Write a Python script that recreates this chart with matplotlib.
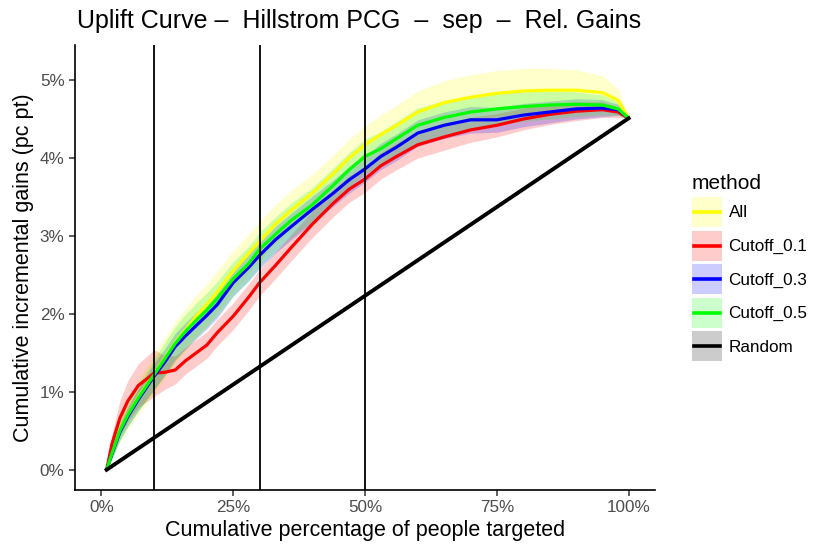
import numpy as np
import matplotlib
matplotlib.use("Agg")
import matplotlib.pyplot as plt
from matplotlib.patches import Rectangle
from matplotlib.lines import Line2D
from matplotlib.legend_handler import HandlerBase

plt.rcParams['font.family'] = ['Liberation Sans', 'DejaVu Sans']

# share of people targeted
x = [0.01, 0.02, 0.035, 0.05, 0.07, 0.10, 0.12, 0.14, 0.16, 0.18, 0.20, 0.22,
     0.25, 0.28, 0.30, 0.33, 0.36, 0.40, 0.44, 0.47, 0.50, 0.53, 0.56, 0.60,
     0.65, 0.70, 0.75, 0.80, 0.85, 0.90, 0.95, 0.98, 1.00]

# cumulative incremental gains (pc pt)
g_all = [0.0, 0.22, 0.50, 0.70, 0.93, 1.23, 1.43, 1.63, 1.80, 1.97, 2.12, 2.28,
         2.55, 2.78, 2.93, 3.15, 3.33, 3.55, 3.80, 4.00, 4.17, 4.30, 4.42, 4.59,
         4.71, 4.78, 4.83, 4.86, 4.87, 4.87, 4.84, 4.74, 4.51]
g_c01 = [0.0, 0.33, 0.66, 0.88, 1.08, 1.24, 1.25, 1.28, 1.40, 1.50, 1.60, 1.76,
         1.97, 2.22, 2.40, 2.62, 2.85, 3.15, 3.42, 3.60, 3.73, 3.90, 4.02, 4.17,
         4.27, 4.36, 4.42, 4.50, 4.56, 4.60, 4.62, 4.59, 4.51]
g_c03 = [0.0, 0.20, 0.48, 0.68, 0.90, 1.20, 1.38, 1.58, 1.72, 1.85, 1.98, 2.12,
         2.40, 2.60, 2.75, 2.95, 3.12, 3.34, 3.55, 3.72, 3.86, 4.02, 4.14, 4.32,
         4.42, 4.49, 4.49, 4.55, 4.59, 4.63, 4.64, 4.62, 4.51]
g_c05 = [0.0, 0.21, 0.50, 0.70, 0.92, 1.22, 1.42, 1.62, 1.78, 1.92, 2.05, 2.20,
         2.45, 2.65, 2.83, 3.02, 3.20, 3.40, 3.65, 3.85, 4.02, 4.12, 4.25, 4.42,
         4.52, 4.59, 4.63, 4.66, 4.68, 4.69, 4.68, 4.63, 4.51]
g_rnd = [0.0, 4.51]
x_rnd = [0.01, 1.00]

# half width of the confidence ribbons
w_all = [0.0, 0.08, 0.15, 0.18, 0.22, 0.25, 0.26, 0.27, 0.27, 0.27, 0.27, 0.27,
         0.26, 0.25, 0.25, 0.25, 0.25, 0.24, 0.24, 0.24, 0.24, 0.25, 0.26, 0.27,
         0.28, 0.29, 0.29, 0.29, 0.28, 0.26, 0.22, 0.15, 0.0]
w_c01 = [0.0, 0.12, 0.22, 0.26, 0.28, 0.30, 0.22, 0.18, 0.17, 0.17, 0.17, 0.17,
         0.17, 0.17, 0.17, 0.17, 0.17, 0.17, 0.17, 0.17, 0.17, 0.17, 0.17, 0.17,
         0.17, 0.16, 0.15, 0.14, 0.13, 0.12, 0.10, 0.07, 0.0]
w_c03 = [0.0, 0.06, 0.10, 0.12, 0.14, 0.17, 0.17, 0.17, 0.17, 0.17, 0.17, 0.17,
         0.17, 0.17, 0.17, 0.17, 0.17, 0.17, 0.17, 0.17, 0.17, 0.17, 0.17, 0.17,
         0.17, 0.17, 0.16, 0.15, 0.14, 0.13, 0.11, 0.07, 0.0]
w_c05 = [0.0, 0.07, 0.12, 0.15, 0.17, 0.20, 0.21, 0.22, 0.22, 0.22, 0.22, 0.22,
         0.22, 0.22, 0.22, 0.22, 0.22, 0.22, 0.22, 0.22, 0.22, 0.22, 0.22, 0.22,
         0.22, 0.21, 0.20, 0.19, 0.18, 0.16, 0.13, 0.09, 0.0]

cutoffs = [0.1, 0.3, 0.5]
methods = ["All", "Cutoff_0.1", "Cutoff_0.3", "Cutoff_0.5", "Random"]
colors = ["#FFFF00", "#FF0000", "#0000FF", "#00FF00", "#000000"]

fig = plt.figure(figsize=(8.3, 5.54), dpi=100)
ax = fig.add_axes([75 / 830, 64 / 554, 580 / 830, 445 / 554])

series = [(g_all, w_all), (g_c01, w_c01), (g_c03, w_c03), (g_c05, w_c05)]
xa = np.array(x)
for (g, w), c in zip(series, colors[:4]):
    g = np.array(g)
    w = np.array(w)
    ax.fill_between(xa, g - w, g + w, color=c, alpha=0.2, lw=0)
for (g, w), c in zip(series, colors[:4]):
    ax.plot(xa, g, color=c, lw=2.3, solid_capstyle="butt")
ax.plot(x_rnd, g_rnd, color="black", lw=2.8)

for c in cutoffs:
    ax.axvline(c, color="black", lw=1.3, zorder=5)

ax.set_xlim(-0.05, 1.05)
ax.set_ylim(-0.26, 5.45)
ax.set_xticks([0, 0.25, 0.5, 0.75, 1.0])
ax.set_xticklabels(["0%", "25%", "50%", "75%", "100%"])
ax.set_yticks([0, 1, 2, 3, 4, 5])
ax.set_yticklabels(["0%", "1%", "2%", "3%", "4%", "5%"])
ax.tick_params(colors="#333333", labelcolor="#4D4D4D", labelsize=12.3, length=4, width=1.1)
for s in ["top", "right"]:
    ax.spines[s].set_visible(False)
for s in ["left", "bottom"]:
    ax.spines[s].set_linewidth(1.2)

ax.set_xlabel("Cumulative percentage of people targeted", fontsize=15.5, labelpad=3)
ax.set_ylabel("Cumulative incremental gains (pc pt)", fontsize=15.5, labelpad=4)
fig.text(77 / 830, 1 - 21 / 554, "Uplift Curve \u2013  Hillstrom PCG  \u2013  sep  \u2013  Rel. Gains",
         fontsize=18, ha="left", va="center")


class KeyHandler(HandlerBase):
    # ggplot-like key: shaded square with the line across its middle
    def create_artists(self, legend, orig_handle, xdescent, ydescent, width, height,
                       fontsize, trans):
        c = orig_handle.get_color()
        cy = height / 2 - ydescent
        box = Rectangle((-xdescent, cy - width / 2), width, width,
                        facecolor=c, alpha=0.2, lw=0, transform=trans)
        pad = width * 0.06
        ln = Line2D([-xdescent + pad, -xdescent + width - pad], [cy, cy],
                    color=c, lw=2.6, transform=trans)
        return [box, ln]


handles = [Line2D([0], [0], color=c) for c in colors]
leg = fig.legend(handles, methods, handler_map={Line2D: KeyHandler()},
                 loc="upper left", bbox_to_anchor=(690 / 830, 1 - 172 / 554),
                 frameon=False, title="method", fontsize=12.3, title_fontsize=15,
                 handlelength=1.76, handleheight=2.2, labelspacing=0.29, handletextpad=0.4,
                 borderpad=0.1, borderaxespad=0)
leg._legend_box.align = "left"

fig.savefig("out.png", dpi=100)
